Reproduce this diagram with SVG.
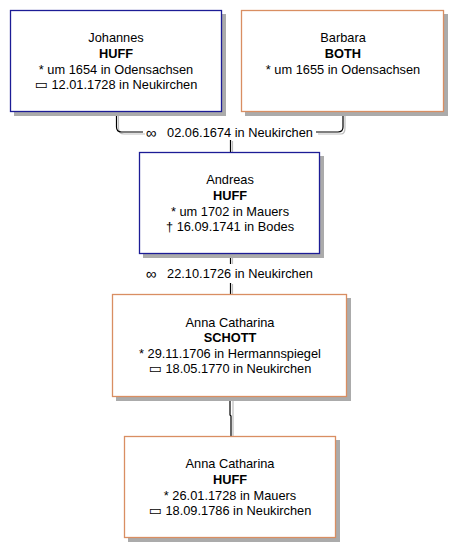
<svg xmlns="http://www.w3.org/2000/svg" width="464" height="558" viewBox="0 0 464 558">
<style>
text{font-family:"Liberation Sans",Arial,sans-serif;font-size:12.8px;fill:#000;text-anchor:middle}
.b{font-weight:bold}
.sym{font-family:"DejaVu Sans",sans-serif;font-size:14px}
.ring{font-family:"Liberation Sans",sans-serif;font-size:15px}
.shadow{fill:#ababab}
.m{fill:#fff;stroke:#1c1c96;stroke-width:1.3}
.f{fill:#fff;stroke:#d98e62;stroke-width:1.3}
.ln{fill:none;stroke:#000;stroke-width:1.2}
.lns{fill:none;stroke:#bdbdbd;stroke-width:1.2}
</style>
<rect width="464" height="558" fill="#fff"/>
<g id="connectors">
  <path class="lns" d="M118.5 112 V128 Q118.5 134 124 134 H145 M318 134 H341 Q345 134 345 128 V112"/>
  <path class="ln" d="M116.5 112 V127 Q116.5 132 121.5 132 H143 M316 132 H338 Q343 132 343 127 V112"/>
  <path class="lns" d="M232.5 141 V152 M232.5 254 V264 M232.5 284 V294 M233 397 V436"/>
  <path class="ln" d="M230.5 140 V152 M230.5 254 V264 M230.5 283 V294 M230 397 V415 L231 416 V436"/>
  <text class="ring" x="151" y="137.5">∞</text>
  <text x="240" y="136.5">02.06.1674 in Neukirchen</text>
  <text class="ring" x="151" y="278.5">∞</text>
  <text x="240" y="277.5">22.10.1726 in Neukirchen</text>
</g>
<g id="johannes">
  <rect class="shadow" x="14" y="14" width="212" height="102"/>
  <rect class="m" x="10.5" y="10.5" width="211" height="101"/>
  <text x="116" y="41.5">Johannes</text>
  <text class="b" x="116" y="57.5">HUFF</text>
  <text x="116" y="73.5">* um 1654 in Odensachsen</text>
  <text x="116" y="88.5"><tspan class="sym">▭</tspan>  12.01.1728 in Neukirchen</text>
</g>
<g id="barbara">
  <rect class="shadow" x="245" y="14" width="203" height="102"/>
  <rect class="f" x="241.5" y="10.5" width="202" height="101"/>
  <text x="343" y="41.5">Barbara</text>
  <text class="b" x="343" y="57.5">BOTH</text>
  <text x="343" y="73.5">* um 1655 in Odensachsen</text>
</g>
<g id="andreas">
  <rect class="shadow" x="143" y="156" width="181" height="102"/>
  <rect class="m" x="139.5" y="152.5" width="180" height="101"/>
  <text x="230" y="183.5">Andreas</text>
  <text class="b" x="230" y="199.5">HUFF</text>
  <text x="230" y="215.5">* um 1702 in Mauers</text>
  <text x="230" y="230.5">†  16.09.1741 in Bodes</text>
</g>
<g id="schott">
  <rect class="shadow" x="116" y="298" width="235" height="103"/>
  <rect class="f" x="112.5" y="294.5" width="234" height="102"/>
  <text x="230" y="326.5">Anna Catharina</text>
  <text class="b" x="230" y="341.5">SCHOTT</text>
  <text x="230" y="357.5">*  29.11.1706 in Hermannspiegel</text>
  <text x="230" y="372.5"><tspan class="sym">▭</tspan>  18.05.1770 in Neukirchen</text>
</g>
<g id="huff">
  <rect class="shadow" x="128" y="440" width="212" height="102"/>
  <rect class="f" x="124.5" y="436.5" width="211" height="101"/>
  <text x="230" y="467.5">Anna Catharina</text>
  <text class="b" x="230" y="483.5">HUFF</text>
  <text x="230" y="499.5">*  26.01.1728 in Mauers</text>
  <text x="230" y="514.5"><tspan class="sym">▭</tspan>  18.09.1786 in Neukirchen</text>
</g>
</svg>
